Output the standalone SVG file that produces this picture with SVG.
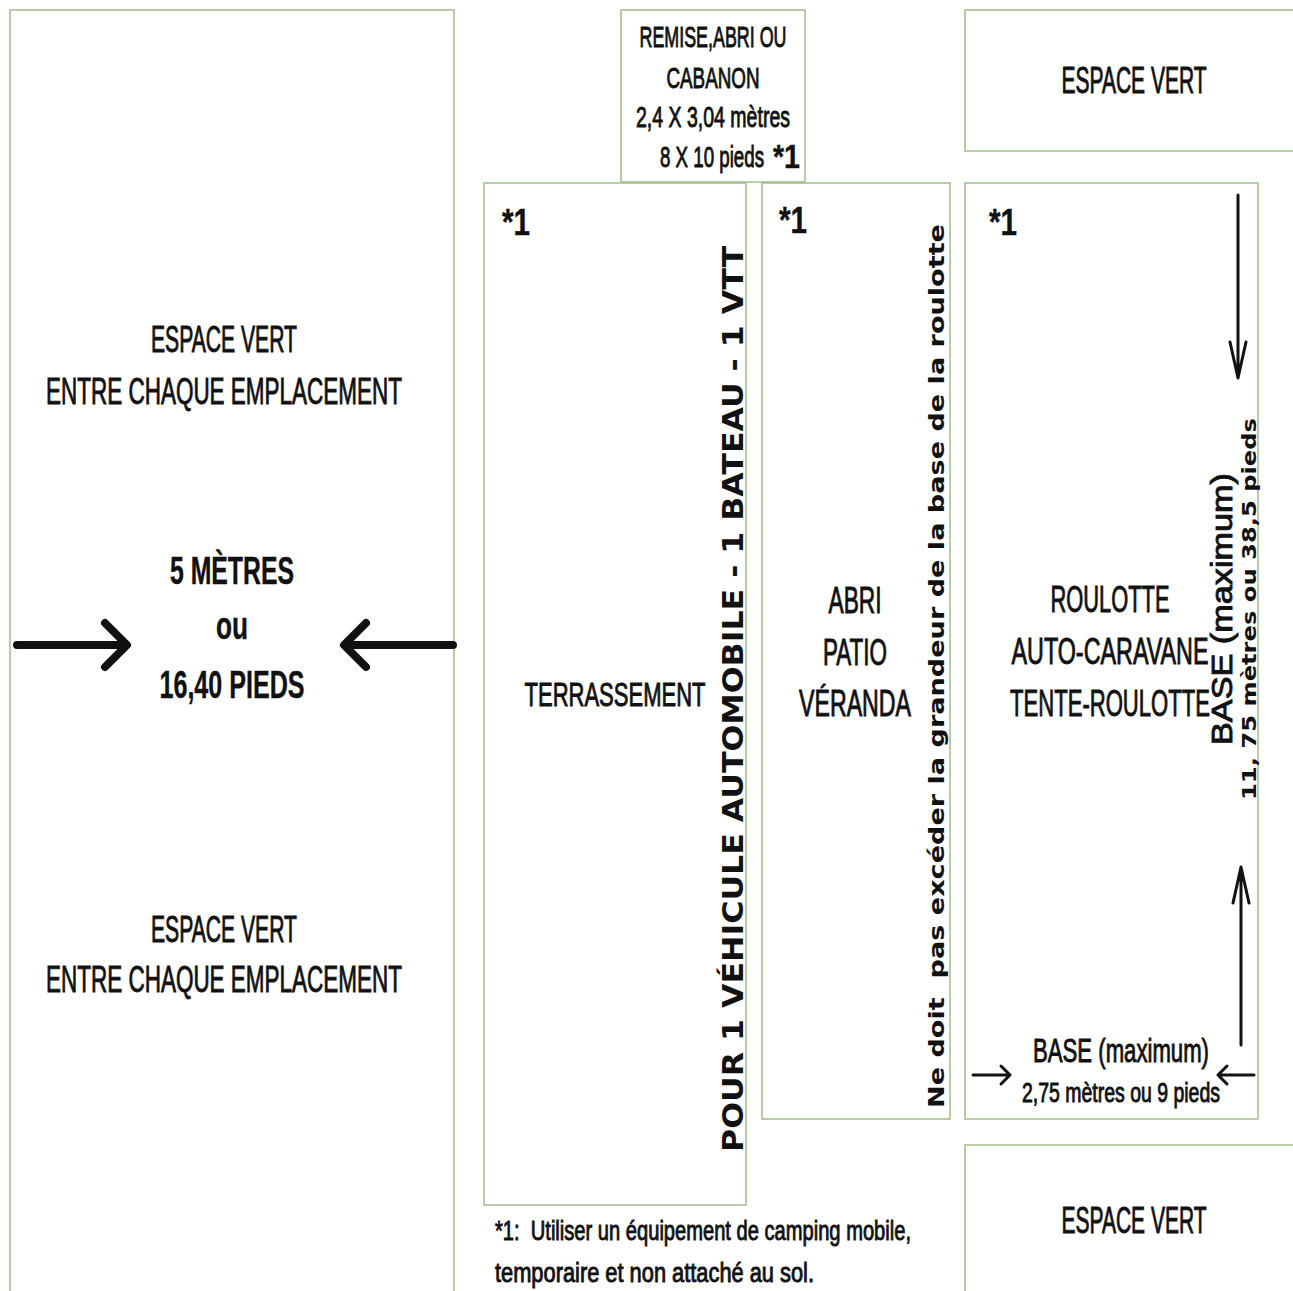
<svg xmlns="http://www.w3.org/2000/svg" width="1293" height="1291" viewBox="0 0 1293 1291">
<style>
.box{fill:#ffffff;stroke:#a3bb8c;stroke-width:1.5}
.c{font-family:"Liberation Sans Narrow","Liberation Sans",Arial,sans-serif;fill:#111;stroke:#111;stroke-width:0.9;text-anchor:middle}
.l{font-family:"Liberation Sans Narrow","Liberation Sans",Arial,sans-serif;fill:#111;stroke:#111;stroke-width:0.9;text-anchor:start;white-space:pre}
.b{font-weight:bold;stroke-width:0.4}
.v{font-family:"DejaVu Sans",Verdana,sans-serif;font-weight:bold;fill:#111;text-anchor:middle;white-space:pre}
.thick{stroke:#111;stroke-width:8;stroke-linecap:round;stroke-linejoin:round;fill:none}
.thin{stroke:#111;stroke-width:3;stroke-linecap:round;stroke-linejoin:round;fill:none}
</style>
<rect width="1293" height="1291" fill="#ffffff"/>

<g id="espace-vert-gauche">
<rect class="box" x="10" y="10" width="444" height="1300"/>
<text class="c" x="224" y="352" font-size="36" textLength="146" lengthAdjust="spacingAndGlyphs">ESPACE VERT</text>
<text class="c" x="224" y="404" font-size="36" textLength="356" lengthAdjust="spacingAndGlyphs">ENTRE CHAQUE EMPLACEMENT</text>
<text class="c b" x="232" y="584" font-size="38" textLength="124" lengthAdjust="spacingAndGlyphs">5 MÈTRES</text>
<text class="c b" x="232" y="639" font-size="38" textLength="32" lengthAdjust="spacingAndGlyphs">ou</text>
<text class="c b" x="232" y="698" font-size="38" textLength="145" lengthAdjust="spacingAndGlyphs">16,40 PIEDS</text>
<text class="c" x="224" y="942" font-size="36" textLength="146" lengthAdjust="spacingAndGlyphs">ESPACE VERT</text>
<text class="c" x="224" y="992" font-size="36" textLength="356" lengthAdjust="spacingAndGlyphs">ENTRE CHAQUE EMPLACEMENT</text>
</g>

<g id="remise">
<rect class="box" x="621" y="10" width="184" height="172"/>
<text class="c" x="713" y="47" font-size="29" textLength="147" lengthAdjust="spacingAndGlyphs">REMISE,ABRI OU</text>
<text class="c" x="713" y="88" font-size="29" textLength="93" lengthAdjust="spacingAndGlyphs">CABANON</text>
<text class="c" x="713" y="127" font-size="29" textLength="154" lengthAdjust="spacingAndGlyphs">2,4 X 3,04 mètres</text>
<text class="l" x="660" y="167" font-size="29" textLength="104" lengthAdjust="spacingAndGlyphs">8 X 10 pieds</text>
<text class="l b" x="773" y="168" font-size="34" textLength="27" lengthAdjust="spacingAndGlyphs">*1</text>
</g>

<g id="espace-vert-haut">
<rect class="box" x="965" y="10" width="340" height="141"/>
<text class="c" x="1134" y="93" font-size="36" textLength="145" lengthAdjust="spacingAndGlyphs">ESPACE VERT</text>
</g>

<g id="terrassement">
<rect class="box" x="484" y="183" width="262" height="1022"/>
<text class="l b" x="502" y="235" font-size="36" textLength="28" lengthAdjust="spacingAndGlyphs">*1</text>
<text class="c" x="615" y="706" font-size="34" textLength="181" lengthAdjust="spacingAndGlyphs">TERRASSEMENT</text>
<text class="v" transform="translate(743,699) rotate(-90)" font-size="28" textLength="906" lengthAdjust="spacingAndGlyphs">POUR 1 VÉHICULE AUTOMOBILE - 1 BATEAU - 1 VTT</text>
</g>

<g id="abri-patio">
<rect class="box" x="762" y="183" width="188" height="936"/>
<text class="l b" x="779" y="233" font-size="36" textLength="28" lengthAdjust="spacingAndGlyphs">*1</text>
<text class="c" x="855" y="613" font-size="36" textLength="53" lengthAdjust="spacingAndGlyphs">ABRI</text>
<text class="c" x="855" y="665" font-size="36" textLength="64" lengthAdjust="spacingAndGlyphs">PATIO</text>
<text class="c" x="855" y="716" font-size="36" textLength="112" lengthAdjust="spacingAndGlyphs">VÉRANDA</text>
<text class="v" transform="translate(944,666) rotate(-90)" font-size="22" textLength="884" lengthAdjust="spacingAndGlyphs">Ne doit  pas excéder la grandeur de la base de la roulotte</text>
</g>

<g id="roulotte">
<rect class="box" x="965" y="183" width="293" height="936"/>
<text class="l b" x="989" y="235" font-size="36" textLength="28" lengthAdjust="spacingAndGlyphs">*1</text>
<text class="c" x="1110" y="612" font-size="36" textLength="119" lengthAdjust="spacingAndGlyphs">ROULOTTE</text>
<text class="c" x="1110" y="664" font-size="36" textLength="197" lengthAdjust="spacingAndGlyphs">AUTO-CARAVANE</text>
<text class="c" x="1110" y="716" font-size="36" textLength="200" lengthAdjust="spacingAndGlyphs">TENTE-ROULOTTE</text>
<text class="c" transform="translate(1232,609) rotate(-90)" font-size="30" textLength="272" lengthAdjust="spacingAndGlyphs">BASE (maximum)</text>
<text class="v" transform="translate(1256,609) rotate(-90)" font-size="20" textLength="382" lengthAdjust="spacingAndGlyphs">11, 75 mètres ou 38,5 pieds</text>
<text class="c" x="1121" y="1062" font-size="33" textLength="176" lengthAdjust="spacingAndGlyphs">BASE (maximum)</text>
<text class="c" x="1121" y="1102" font-size="27" textLength="198" lengthAdjust="spacingAndGlyphs">2,75 mètres ou 9 pieds</text>
</g>

<g id="espace-vert-bas">
<rect class="box" x="965" y="1145" width="340" height="160"/>
<text class="c" x="1134" y="1233" font-size="36" textLength="145" lengthAdjust="spacingAndGlyphs">ESPACE VERT</text>
</g>

<g id="note">
<text class="l" x="495" y="1240" font-size="27" textLength="416" lengthAdjust="spacingAndGlyphs">*1:  Utiliser un équipement de camping mobile,</text>
<text class="l" x="495" y="1282" font-size="27" textLength="319" lengthAdjust="spacingAndGlyphs">temporaire et non attaché au sol.</text>
</g>

<g id="connectors">
<path class="thick" d="M17 645 H126 M105 623 L127 645 L105 667"/>
<path class="thick" d="M453 645 H345 M366 623 L344 645 L366 667"/>
<path class="thin" d="M1238 195 V378 M1230 342 L1238 378 L1246 342"/>
<path class="thin" d="M1241 1045 V867 M1233 903 L1241 867 L1249 903"/>
<path class="thin" d="M973 1075 H1010 M1001 1066 L1010 1075 L1001 1084"/>
<path class="thin" d="M1254 1075 H1218 M1227 1066 L1218 1075 L1227 1084"/>
</g>
</svg>
